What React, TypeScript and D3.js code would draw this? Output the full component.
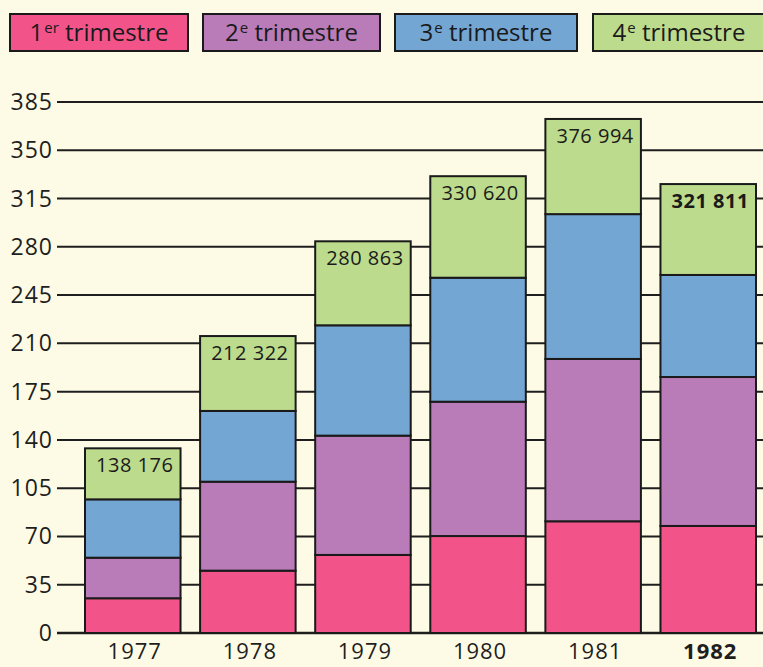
import React, { useEffect, useRef } from "react";
import * as d3 from "d3";

// Values in thousands
const years = ["1977", "1978", "1979", "1980", "1981", "1982"];
const q1 = [25.2, 45.2, 56.6, 70.3, 81.0, 77.6];
const q2 = [29.4, 64.5, 86.5, 97.4, 117.7, 108.0];
const q3 = [42.3, 51.3, 80.0, 89.9, 105.0, 74.0];
const q4 = [37.0, 54.3, 60.9, 73.6, 69.0, 65.9];
const totalLabels = ["138 176", "212 322", "280 863", "330 620", "376 994", "321 811"];
const yTicks = [0, 35, 70, 105, 140, 175, 210, 245, 280, 315, 350, 385];
const legendNames = [
  { num: "1", sup: "er" },
  { num: "2", sup: "e" },
  { num: "3", sup: "e" },
  { num: "4", sup: "e" },
];
const colors = ["#f2548a", "#b97cb8", "#74a6d3", "#bcdb8d"];

const FONT = "'Open Sans', sans-serif";

const App = () => {
  const svgRef = useRef(null);

  useEffect(() => {
    drawChart();
  }, []);

  const drawChart = () => {
    const svg = d3.select(svgRef.current);
    svg.selectAll("*").remove();

    const width = 763;
    const height = 667;

    svg
      .append("rect")
      .attr("width", width)
      .attr("height", height)
      .attr("fill", "#fdfbe5");

    const x = d3.scaleBand().domain(years).range([85, 756]).paddingInner(0.17).paddingOuter(0);
    const y = d3.scaleLinear().domain([0, 385]).range([633, 102]);

    // Grid lines / ticks
    const axis = svg.append("g");
    axis
      .selectAll("line")
      .data(yTicks)
      .join("line")
      .attr("x1", 57)
      .attr("x2", width)
      .attr("y1", (d) => y(d))
      .attr("y2", (d) => y(d))
      .attr("stroke", "#1e1e1e")
      .attr("stroke-width", (d) => (d === 0 ? 2.5 : 2));
    axis
      .selectAll("text")
      .data(yTicks)
      .join("text")
      .attr("x", 53)
      .attr("y", (d) => y(d) + 8)
      .attr("text-anchor", "end")
      .attr("font-family", FONT)
      .attr("font-size", 23)
      .attr("letter-spacing", 1)
      .attr("fill", "#1e1e1e")
      .text((d) => d);

    // Stacked bars
    const table = years.map((yr, i) => ({ year: yr, q1: q1[i], q2: q2[i], q3: q3[i], q4: q4[i] }));
    const stack = d3.stack().keys(["q1", "q2", "q3", "q4"]);
    const series = stack(table);

    svg
      .append("g")
      .selectAll("g")
      .data(series)
      .join("g")
      .attr("fill", (d, i) => colors[i])
      .selectAll("rect")
      .data((d) => d)
      .join("rect")
      .attr("x", (d) => x(d.data.year))
      .attr("width", x.bandwidth())
      .attr("y", (d) => y(d[1]))
      .attr("height", (d) => y(d[0]) - y(d[1]))
      .attr("stroke", "#1a1a1a")
      .attr("stroke-width", 2);

    // Totals
    const top = series[series.length - 1];
    svg
      .append("g")
      .selectAll("text")
      .data(top)
      .join("text")
      .attr("x", (d) => x(d.data.year) + x.bandwidth() / 2 + 2)
      .attr("y", (d) => y(d[1]) + 24)
      .attr("text-anchor", "middle")
      .attr("font-family", FONT)
      .attr("font-size", 20)
      .attr("letter-spacing", 0.5)
      .attr("font-weight", (d, i) => (i === years.length - 1 ? 700 : 400))
      .attr("fill", "#1a1a1a")
      .text((d, i) => totalLabels[i]);

    // Year labels
    svg
      .append("g")
      .selectAll("text")
      .data(years)
      .join("text")
      .attr("x", (d) => x(d) + x.bandwidth() / 2 + 2)
      .attr("y", 659)
      .attr("text-anchor", "middle")
      .attr("font-family", FONT)
      .attr("font-size", 22)
      .attr("letter-spacing", 1)
      .attr("font-weight", (d, i) => (i === years.length - 1 ? 700 : 400))
      .attr("fill", "#1e1e1e")
      .text((d) => d);

    // Legend
    const legendX = [10, 203, 395, 593];
    const legendW = [178, 177, 182, 172];
    const lg = svg
      .append("g")
      .selectAll("g")
      .data(legendNames)
      .join("g")
      .attr("transform", (d, i) => `translate(${legendX[i]},14)`);
    lg.append("rect")
      .attr("width", (d, i) => legendW[i])
      .attr("height", 37)
      .attr("fill", (d, i) => colors[i])
      .attr("stroke", "#1a1a1a")
      .attr("stroke-width", 2);
    const lt = lg
      .append("text")
      .attr("x", (d, i) => legendW[i] / 2)
      .attr("y", 27)
      .attr("text-anchor", "middle")
      .attr("font-family", FONT)
      .attr("font-size", 24)
      .attr("fill", "#1a1a1a");
    lt.append("tspan").text((d) => d.num);
    lt.append("tspan")
      .attr("font-size", 15)
      .attr("dy", -8)
      .attr("dx", 1)
      .text((d) => d.sup);
    lt.append("tspan")
      .attr("dy", 8)
      .text(" trimestre");
  };

  return (
    <svg
      ref={svgRef}
      width="763"
      height="667"
      style={{ position: "absolute", left: 0, top: 0, display: "block" }}
    ></svg>
  );
};

export default App;
